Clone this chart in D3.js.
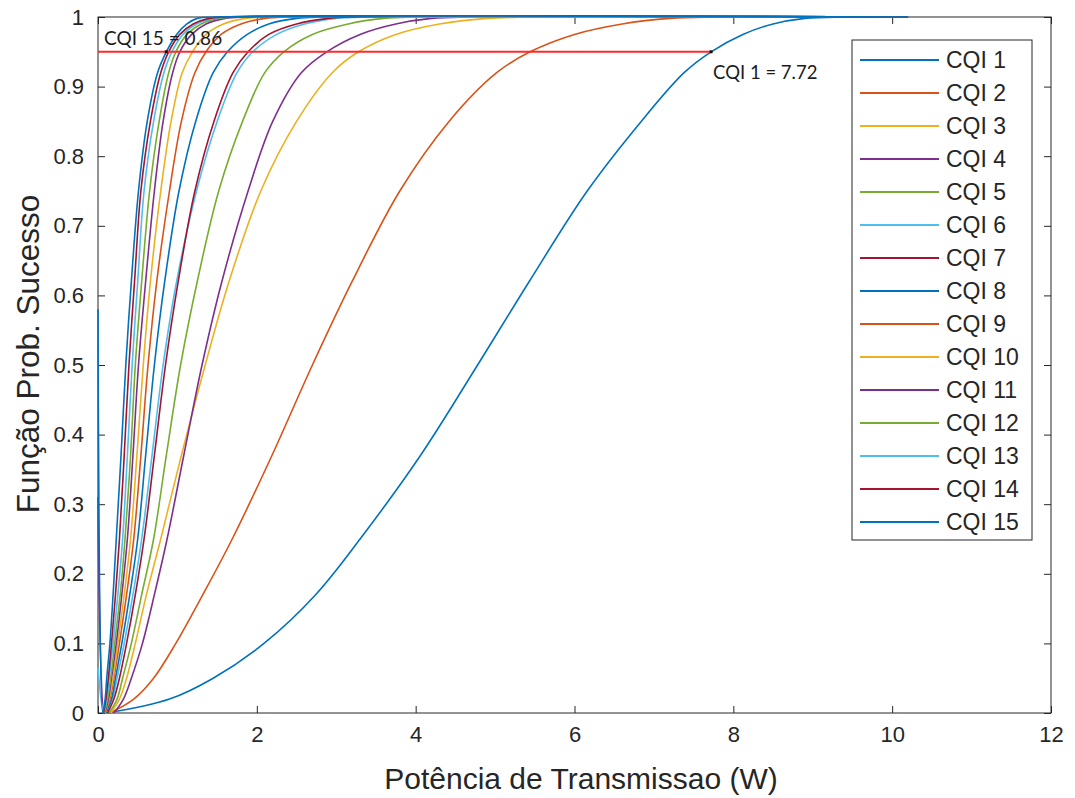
<!DOCTYPE html>
<html>
<head>
<meta charset="utf-8">
<script src="https://cdn.jsdelivr.net/npm/d3@7"></script>
<style>
  body { margin: 0; background: #fff; }
  svg { display: block; }
</style>
</head>
<body>
<svg id="chart" width="1075" height="798"></svg>
<script>
// Probability levels shared by every curve; each CQI array gives the
// transmit power (W) at which that success probability is reached.
const probLevels = [0, 0.02, 0.05, 0.1, 0.17, 0.25, 0.37, 0.5, 0.62, 0.75, 0.85, 0.92, 0.95, 0.975, 0.99, 0.998, 1, 1];

const potCQI1  = [0.12, 0.90, 1.45, 2.09, 2.74, 3.30, 4.06, 4.78, 5.43, 6.16, 6.84, 7.38, 7.72, 8.12, 8.50, 8.90, 9.40, 10.2];
const potCQI2  = [0.15, 0.45, 0.70, 0.98, 1.32, 1.69, 2.19, 2.70, 3.20, 3.80, 4.42, 5.02, 5.44, 6.00, 6.60, 7.20, 7.80, 10.2];
const potCQI3  = [0.16, 0.27, 0.36, 0.47, 0.61, 0.79, 1.05, 1.35, 1.65, 2.05, 2.50, 2.95, 3.28, 3.75, 4.30, 4.90, 5.40, 10.2];
const potCQI4  = [0.20, 0.32, 0.42, 0.56, 0.71, 0.87, 1.08, 1.31, 1.56, 1.89, 2.20, 2.56, 2.88, 3.30, 3.75, 4.20, 4.70, 10.2];
const potCQI5  = [0.14, 0.24, 0.31, 0.42, 0.55, 0.70, 0.86, 1.04, 1.25, 1.52, 1.82, 2.10, 2.34, 2.70, 3.15, 3.60, 4.00, 10.2];
const potCQI6  = [0.10, 0.18, 0.24, 0.33, 0.44, 0.55, 0.68, 0.82, 0.99, 1.24, 1.50, 1.75, 1.95, 2.25, 2.60, 3.00, 3.40, 10.2];
const potCQI7  = [0.12, 0.20, 0.27, 0.36, 0.47, 0.58, 0.71, 0.85, 1.01, 1.22, 1.46, 1.70, 1.89, 2.15, 2.50, 2.90, 3.20, 10.2];
const potCQI8  = [0.10, 0.17, 0.22, 0.30, 0.40, 0.50, 0.60, 0.71, 0.84, 1.02, 1.23, 1.45, 1.63, 1.88, 2.15, 2.50, 2.80, 10.2];
const potCQI9  = [0.09, 0.15, 0.20, 0.27, 0.36, 0.45, 0.54, 0.63, 0.74, 0.90, 1.05, 1.22, 1.36, 1.55, 1.80, 2.10, 2.40, 10.2];
const potCQI10 = [0.09, 0.14, 0.19, 0.25, 0.33, 0.41, 0.49, 0.57, 0.66, 0.79, 0.92, 1.06, 1.19, 1.36, 1.58, 1.85, 2.10, 10.2];
const potCQI11 = [0.08, 0.13, 0.17, 0.23, 0.30, 0.37, 0.44, 0.51, 0.60, 0.71, 0.82, 0.94, 1.03, 1.18, 1.36, 1.60, 1.85, 10.2];
const potCQI12 = [0.08, 0.12, 0.16, 0.21, 0.28, 0.34, 0.41, 0.47, 0.55, 0.65, 0.77, 0.89, 0.98, 1.12, 1.30, 1.52, 1.75, 10.2];
const potCQI13 = [0.07, 0.11, 0.14, 0.19, 0.25, 0.31, 0.37, 0.43, 0.50, 0.58, 0.70, 0.83, 0.93, 1.07, 1.24, 1.45, 1.65, 10.2];
const potCQI14 = [0.07, 0.10, 0.13, 0.17, 0.22, 0.27, 0.33, 0.39, 0.46, 0.54, 0.66, 0.79, 0.89, 1.03, 1.20, 1.40, 1.60, 10.2];
const potCQI15 = [0.06, 0.09, 0.11, 0.15, 0.19, 0.23, 0.29, 0.35, 0.42, 0.51, 0.62, 0.75, 0.86, 0.99, 1.12, 1.25, 1.50, 10.2];

const cqiNames = ["CQI 1", "CQI 2", "CQI 3", "CQI 4", "CQI 5", "CQI 6", "CQI 7", "CQI 8",
                  "CQI 9", "CQI 10", "CQI 11", "CQI 12", "CQI 13", "CQI 14", "CQI 15"];
const cqiPower = [potCQI1, potCQI2, potCQI3, potCQI4, potCQI5, potCQI6, potCQI7, potCQI8,
                  potCQI9, potCQI10, potCQI11, potCQI12, potCQI13, potCQI14, potCQI15];

// Values some curves take at P = 0 before dropping to zero
const spikeCQI   = [11, 13, 15];
const spikeValue = [0.31, 0.065, 0.58];

// Target probability and the powers where CQI 15 and CQI 1 reach it
const targetProb = 0.95;
const markCQI    = ["CQI 15", "CQI 1"];
const markPower  = [0.86, 7.72];

const xTicks = [0, 2, 4, 6, 8, 10, 12];
const yTicks = [0, 0.1, 0.2, 0.3, 0.4, 0.5, 0.6, 0.7, 0.8, 0.9, 1];

const palette = ["#0072BD", "#D95319", "#EDB120", "#7E2F8E", "#77AC30", "#4DBEEE", "#A2142F"];

const W = 1075, H = 798;
const plot = { left: 98, right: 1051, top: 17, bottom: 713 };
const axisColor = "#262626";
const font = "'Liberation Sans', Arial, Helvetica, sans-serif";

const svg = d3.select("#chart");
svg.append("rect").attr("width", W).attr("height", H).attr("fill", "#fff");

const x = d3.scaleLinear().domain([0, 12]).range([plot.left, plot.right]);
const y = d3.scaleLinear().domain([0, 1]).range([plot.bottom, plot.top]);

svg.append("clipPath").attr("id", "plotClip")
  .append("rect")
  .attr("x", plot.left - 2).attr("y", plot.top - 2)
  .attr("width", plot.right - plot.left + 4).attr("height", plot.bottom - plot.top + 4);

// Axes box
svg.append("rect")
  .attr("x", plot.left).attr("y", plot.top)
  .attr("width", plot.right - plot.left).attr("height", plot.bottom - plot.top)
  .attr("fill", "none").attr("stroke", axisColor).attr("stroke-width", 1);

function styleAxis(g) {
  g.select(".domain").remove();
  g.selectAll(".tick line").attr("stroke", axisColor).attr("stroke-width", 1);
  g.selectAll(".tick text").attr("fill", axisColor)
    .style("font-family", font).style("font-size", "22px");
}

svg.append("g").attr("transform", `translate(0,${plot.bottom})`)
  .call(d3.axisBottom(x).tickValues(xTicks).tickFormat(d3.format("d"))
    .tickSizeInner(-7).tickSizeOuter(0).tickPadding(13))
  .call(styleAxis);
svg.append("g").attr("transform", `translate(0,${plot.top})`)
  .call(d3.axisTop(x).tickValues(xTicks).tickFormat("")
    .tickSizeInner(-7).tickSizeOuter(0))
  .call(styleAxis);
svg.append("g").attr("transform", `translate(${plot.left},0)`)
  .call(d3.axisLeft(y).tickValues(yTicks).tickFormat(d => d3.format("")(+d.toFixed(1)))
    .tickSizeInner(-7).tickSizeOuter(0).tickPadding(14))
  .call(styleAxis);
svg.append("g").attr("transform", `translate(${plot.right},0)`)
  .call(d3.axisRight(y).tickValues(yTicks).tickFormat("")
    .tickSizeInner(-7).tickSizeOuter(0))
  .call(styleAxis);

// Axis labels
svg.append("text")
  .attr("x", 581).attr("y", 789)
  .attr("text-anchor", "middle").attr("fill", axisColor)
  .style("font-family", font).style("font-size", "30px")
  .text("Potência de Transmissao (W)");
svg.append("text")
  .attr("transform", `translate(39,354) rotate(-90)`)
  .attr("text-anchor", "middle").attr("fill", axisColor)
  .style("font-family", font).style("font-size", "31.5px")
  .text("Função Prob. Sucesso");

// Success-probability curves
const line = d3.line()
  .x(d => x(d[0])).y(d => y(d[1]))
  .curve(d3.curveCatmullRom.alpha(0.5));

const curves = cqiPower.map((pw, i) => {
  const pts = pw.map((p, k) => [p, probLevels[k]]);
  const s = spikeCQI.indexOf(i + 1);
  if (s >= 0) pts.unshift([0, spikeValue[s]]);
  return { name: cqiNames[i], color: palette[i % palette.length], pts };
});

svg.append("g").attr("clip-path", "url(#plotClip)")
  .selectAll("path")
  .data(curves).join("path")
  .attr("d", d => line(d.pts))
  .attr("fill", "none")
  .attr("stroke", d => d.color)
  .attr("stroke-width", 1.6)
  .attr("stroke-linejoin", "round");

// Target probability line and markers
svg.append("line")
  .attr("x1", x(0)).attr("x2", x(d3.max(markPower)))
  .attr("y1", y(targetProb)).attr("y2", y(targetProb))
  .attr("stroke", "#FF2A2A").attr("stroke-width", 2);

svg.append("g").selectAll("rect")
  .data(markPower).join("rect")
  .attr("x", d => x(d) - 1.5).attr("y", y(targetProb) - 1.5)
  .attr("width", 3).attr("height", 3).attr("fill", "#111");

const annoFont = "Lato, 'Open Sans', sans-serif";
svg.append("text")
  .attr("x", x(0) + 6).attr("y", 45)
  .attr("fill", "#1c1c1c").style("font-family", annoFont).style("font-size", "19px")
  .text(`${markCQI[0]} = ${markPower[0].toFixed(2)}`);
svg.append("text")
  .attr("x", x(markPower[1]) + 2).attr("y", 79)
  .attr("fill", "#1c1c1c").style("font-family", annoFont).style("font-size", "18.5px")
  .text(`${markCQI[1]} = ${markPower[1].toFixed(2)}`);

// Legend
const leg = { x: 852, y: 40, w: 180, h: 500, row0: 60, step: 33 };
const lg = svg.append("g");
lg.append("rect")
  .attr("x", leg.x).attr("y", leg.y).attr("width", leg.w).attr("height", leg.h)
  .attr("fill", "#fff").attr("stroke", axisColor).attr("stroke-width", 1);
const items = lg.selectAll("g.item").data(curves).join("g")
  .attr("transform", (d, i) => `translate(0,${leg.row0 + i * leg.step})`);
items.append("line")
  .attr("x1", leg.x + 8).attr("x2", leg.x + 87)
  .attr("stroke", d => d.color).attr("stroke-width", 1.8);
items.append("text")
  .attr("x", leg.x + 94).attr("y", 8)
  .attr("fill", axisColor)
  .style("font-family", font).style("font-size", "23px")
  .text(d => d.name);
</script>
</body>
</html>
